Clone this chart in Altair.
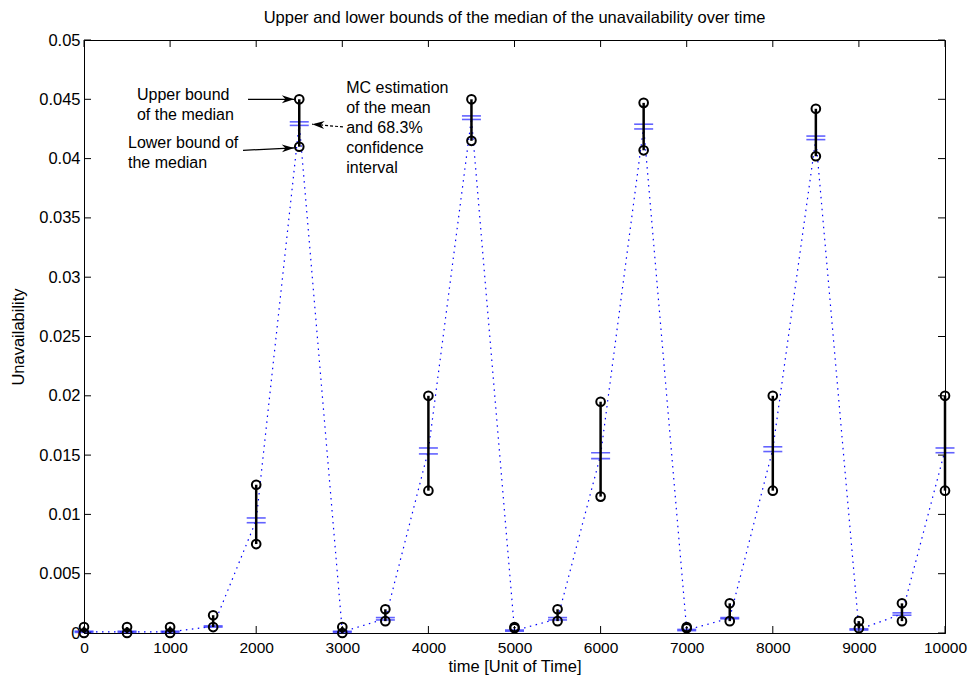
import altair as alt
import pandas as pd

# ---- data ----
time = [0, 500, 1000, 1500, 2000, 2500, 3000, 3500, 4000, 4500, 5000,
        5500, 6000, 6500, 7000, 7500, 8000, 8500, 9000, 9500, 10000]
upper = [0.0005, 0.0005, 0.0005, 0.0015, 0.0125, 0.045, 0.0005, 0.002, 0.020, 0.045, 0.0005,
         0.002, 0.0195, 0.0447, 0.0005, 0.0025, 0.020, 0.0442, 0.001, 0.0025, 0.020]
lower = [0.0, 0.0, 0.0, 0.0005, 0.0075, 0.041, 0.0, 0.001, 0.012, 0.0415, 0.0004,
         0.001, 0.0115, 0.0407, 0.0004, 0.001, 0.012, 0.0402, 0.0004, 0.001, 0.012]
ci_hi = [0.00015, 0.00015, 0.00015, 0.0006, 0.0097, 0.0431, 0.00015, 0.0013, 0.0156, 0.0436, 0.00025,
         0.0013, 0.0152, 0.0429, 0.0003, 0.0013, 0.0157, 0.0419, 0.00035, 0.0017, 0.0156]
ci_lo = [0.00005, 0.00005, 0.00005, 0.0005, 0.0093, 0.0428, 0.00005, 0.0011, 0.0151, 0.0433, 0.00015,
         0.0011, 0.0147, 0.0425, 0.0002, 0.0012, 0.0153, 0.0416, 0.00025, 0.0015, 0.0152]
mean = [0.0001, 0.0001, 0.0001, 0.00055, 0.0095, 0.043, 0.0001, 0.0012, 0.0154, 0.0434, 0.0002,
        0.0012, 0.015, 0.0427, 0.00025, 0.00125, 0.0155, 0.0417, 0.0003, 0.0016, 0.0154]

x_ticks = [0, 1000, 2000, 3000, 4000, 5000, 6000, 7000, 8000, 9000, 10000]
y_ticks = [0, 0.005, 0.01, 0.015, 0.02, 0.025, 0.03, 0.035, 0.04, 0.045, 0.05]

# annotation text (data coordinates)
ann_x = [615, 615, 511, 511, 3045, 3045, 3045, 3045, 3045]
ann_y = [0.04535, 0.0437, 0.0413, 0.0396, 0.04595, 0.0443, 0.0426, 0.0409, 0.0392]
ann_text = ["Upper bound", "of the median", "Lower bound of", "the median",
            "MC estimation", "of the mean", "and 68.3%", "confidence", "interval"]

# arrows: start -> tip
arr_x1 = [1905, 1847]
arr_y1 = [0.045, 0.0407]
arr_x2 = [2440, 2440]
arr_y2 = [0.045, 0.0409]
arr_angle = [0, 358]
mc_x1, mc_y1, mc_x2, mc_y2 = [3008], [0.04267], [2650], [0.0429]

FONT = "Liberation Sans"
W, H = 861, 593

df = pd.DataFrame(dict(time=time, upper=upper, lower=lower, ci_hi=ci_hi, ci_lo=ci_lo, mean=mean))

xs = alt.Scale(domain=[0, 10000], nice=False, zero=False)
ys = alt.Scale(domain=[0, 0.05], nice=False, zero=False)

xax = alt.Axis(title="time [Unit of Time]", values=x_ticks, format="d", ticks=False, grid=False,
               labelFontSize=15.5, titleFontSize=16.5, labelPadding=7, titlePadding=3,
               labelFlush=False, labelOverlap=False,
               titleFontWeight="normal", labelFont=FONT, titleFont=FONT,
               domainColor="black", labelColor="black", titleColor="black")
yax = alt.Axis(title="Unavailability", values=y_ticks, format="~g", ticks=False, grid=False,
               labelFontSize=16.5, titleFontSize=16.5, labelPadding=4, titlePadding=12,
               labelFlush=False, labelOverlap=False,
               titleFontWeight="normal", labelFont=FONT, titleFont=FONT,
               domainColor="black", labelColor="black", titleColor="black")


def X(f):
    return alt.X(f, scale=xs, axis=xax)


def Y(f):
    return alt.Y(f, scale=ys, axis=yax)


base = alt.Chart(df)

line = base.mark_line(strokeDash=[1.5, 4.5], color="#0000ff", strokeWidth=1.2).encode(
    x=X("time:Q"), y=Y("mean:Q"))

ci1 = base.mark_tick(orient="horizontal", color="#1f1fff", size=19, thickness=1.6).encode(
    x=X("time:Q"), y=Y("ci_hi:Q"))
ci2 = base.mark_tick(orient="horizontal", color="#1f1fff", size=19, thickness=1.6).encode(
    x=X("time:Q"), y=Y("ci_lo:Q"))

bars = base.mark_rule(color="black", strokeWidth=2.5).encode(
    x=X("time:Q"), y=Y("lower:Q"), y2="upper:Q")

circles = base.transform_fold(["upper", "lower"], as_=["bound", "val"]).mark_point(
    shape="circle", filled=False, color="black", strokeWidth=2, size=75, opacity=1).encode(
    x=X("time:Q"), y=Y("val:Q"))

# frame ticks (inward)
xt = pd.DataFrame({"time": x_ticks})
yt = pd.DataFrame({"mean": y_ticks})
tick_b = alt.Chart(xt).mark_rule(color="black").encode(
    x=X("time:Q"), y=alt.value(H), y2=alt.value(H - 7))
tick_t = alt.Chart(xt).mark_rule(color="black").encode(
    x=X("time:Q"), y=alt.value(0), y2=alt.value(7))
tick_l = alt.Chart(yt).mark_rule(color="black").encode(
    y=Y("mean:Q"), x=alt.value(0), x2=alt.value(7))
tick_r = alt.Chart(yt).mark_rule(color="black").encode(
    y=Y("mean:Q"), x=alt.value(W), x2=alt.value(W - 7))

# annotations
ann = alt.Chart(pd.DataFrame(dict(time=ann_x, mean=ann_y, t=ann_text))).mark_text(
    align="left", baseline="middle", fontSize=16, font=FONT, color="black").encode(
    x=X("time:Q"), y=Y("mean:Q"), text="t:N")

arr_df = pd.DataFrame(dict(time=arr_x1, mean=arr_y1, x2=arr_x2, y2=arr_y2, ang=arr_angle))
arr_lines = alt.Chart(arr_df).mark_rule(color="black", strokeWidth=1.3).encode(
    x=X("time:Q"), x2="x2:Q", y=Y("mean:Q"), y2="y2:Q")
HEAD = "M0,0L-2,-0.65L-1.4,0L-2,0.65Z"
arr_heads = alt.Chart(pd.DataFrame(dict(time=arr_x2, mean=arr_y2, ang=arr_angle))).mark_point(
    shape=HEAD, filled=True, color="black", size=150, opacity=1).encode(
    x=X("time:Q"), y=Y("mean:Q"), angle=alt.Angle("ang:Q", scale=None))

mc_df = pd.DataFrame(dict(time=mc_x1, mean=mc_y1, x2=mc_x2, y2=mc_y2))
mc_line = alt.Chart(mc_df).mark_rule(color="black", strokeWidth=1.2, strokeDash=[3, 2]).encode(
    x=X("time:Q"), x2="x2:Q", y=Y("mean:Q"), y2="y2:Q")
mc_head = alt.Chart(pd.DataFrame(dict(time=mc_x2, mean=mc_y2))).mark_point(
    shape=HEAD, filled=True, color="black", size=150, opacity=1, angle=184).encode(
    x=X("time:Q"), y=Y("mean:Q"))

chart = alt.layer(
    line, ci1, ci2, bars, circles, tick_b, tick_t, tick_l, tick_r,
    ann, arr_lines, arr_heads, mc_line, mc_head
).properties(
    width=W, height=H,
    title=alt.Title("Upper and lower bounds of the median of the unavailability over time",
                    fontSize=16.5, font=FONT, fontWeight="normal", color="black", offset=6),
    autosize=alt.AutoSizeParams(type="none"),
    padding={"left": 76, "top": 32, "right": 23, "bottom": 48},
    background="white",
).configure_view(stroke="black", strokeWidth=1)

chart.save("out.html", embed_options={"renderer": "svg", "actions": False})
